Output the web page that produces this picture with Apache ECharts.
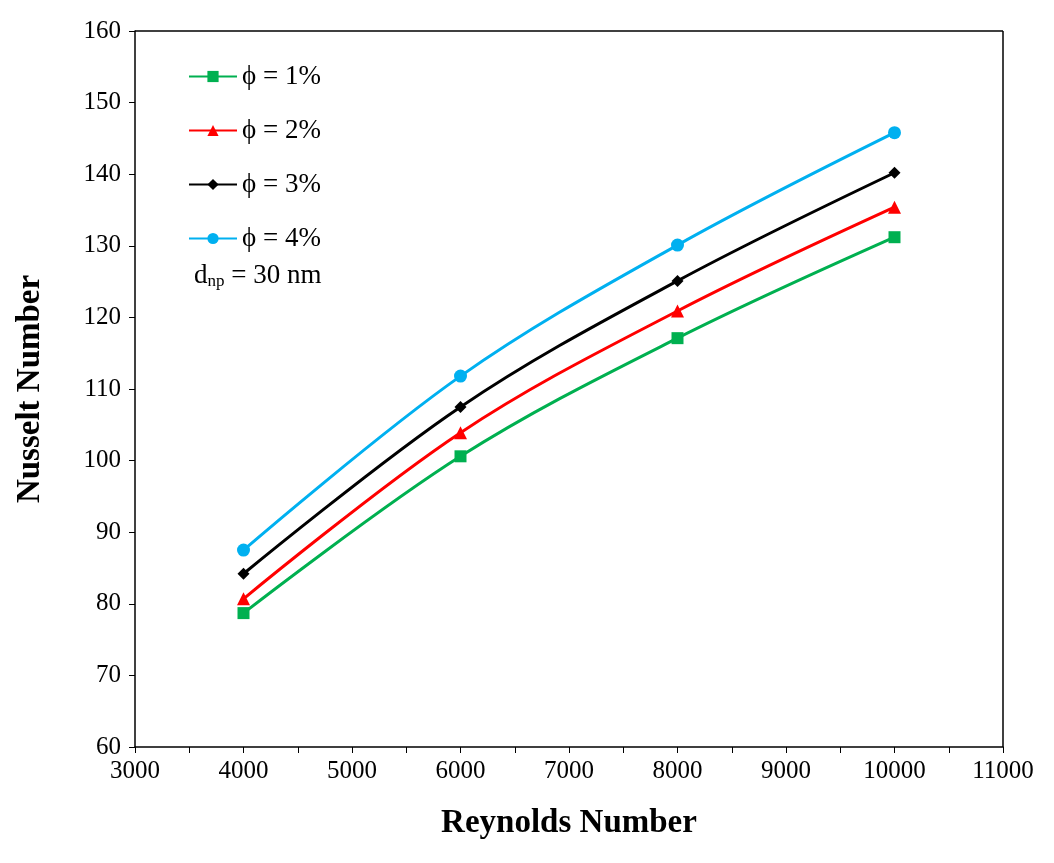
<!DOCTYPE html>
<html><head><meta charset="utf-8">
<script src="https://cdn.jsdelivr.net/npm/echarts@6/dist/echarts.min.js"></script>
<style>html,body{margin:0;padding:0;background:#fff}#c{width:1054px;height:863px}</style>
</head><body><div id="c"></div>
<script>
const reynolds = [4000, 6000, 8000, 10000];
const phi1 = [78.7, 100.6, 117.1, 131.2];
const phi2 = [80.7, 103.9, 120.9, 135.4];
const phi3 = [84.2, 107.5, 125.1, 140.2];
const phi4 = [87.5, 111.8, 130.1, 145.8];
const names = ['ϕ = 1%', 'ϕ = 2%', 'ϕ = 3%', 'ϕ = 4%'];
const colors = ['#00b050', '#ff0000', '#000000', '#00b0f0'];
const symbols = ['rect', 'triangle', 'diamond', 'circle'];
const sizes = [12, 13, 12, 13];
const font = 'Liberation Serif';
const all = [phi1, phi2, phi3, phi4];
const chart = echarts.init(document.getElementById('c'));
chart.setOption({
  animation: false,
  grid: {left: 135, top: 31, right: 51, bottom: 116},
  legend: {
    left: 183, top: 58, orient: 'vertical', itemGap: 27, itemWidth: 48, itemHeight: 14,
    textStyle: {fontFamily: font, fontSize: 27, color: '#000'},
    data: names
  },
  graphic: [{type: 'text', left: 194, top: 262,
    style: {text: '{a|d}{b|np}{a| = 30 nm}', rich: {
      a: {fontFamily: font, fontSize: 27, fill: '#000'},
      b: {fontFamily: font, fontSize: 17, fill: '#000', padding: [12, 0, 0, 0]}}}}],
  xAxis: {
    type: 'value', min: 3000, max: 11000, interval: 1000,
    name: 'Reynolds Number', nameLocation: 'middle', nameGap: 60,
    nameTextStyle: {fontFamily: font, fontSize: 33, fontWeight: 'bold', color: '#000'},
    axisLine: {lineStyle: {color: '#000', width: 1.5}},
    axisTick: {length: 6, lineStyle: {color: '#000'}},
    minorTick: {show: true, splitNumber: 2, length: 6, lineStyle: {color: '#000'}},
    axisLabel: {fontFamily: font, fontSize: 25, color: '#000', margin: 12, formatter: v => String(v)},
    splitLine: {show: false}
  },
  yAxis: {
    type: 'value', min: 60, max: 160, interval: 10,
    name: 'Nusselt Number', nameLocation: 'middle', nameGap: 88,
    nameTextStyle: {fontFamily: font, fontSize: 33, fontWeight: 'bold', color: '#000'},
    axisLine: {show: true, lineStyle: {color: '#000', width: 1.5}},
    axisTick: {show: true, length: 6, lineStyle: {color: '#000'}},
    axisLabel: {fontFamily: font, fontSize: 25, color: '#000', margin: 14},
    splitLine: {show: false}
  },
  series: all.map((d, i) => ({
    name: names[i], type: 'line', smooth: 0.35,
    data: reynolds.map((x, j) => [x, d[j]]),
    symbol: symbols[i], symbolSize: sizes[i], showAllSymbol: true,
    lineStyle: {color: colors[i], width: 3},
    itemStyle: {color: colors[i]}
  })).concat([{type: 'line', data: [], markLine: {silent: true, symbol: 'none', label: {show: false},
    lineStyle: {color: '#000', width: 1.5, type: 'solid'},
    data: [[{coord: [3000, 160]}, {coord: [11000, 160]}], [{coord: [11000, 60]}, {coord: [11000, 160]}]]}}])
});
</script></body></html>
